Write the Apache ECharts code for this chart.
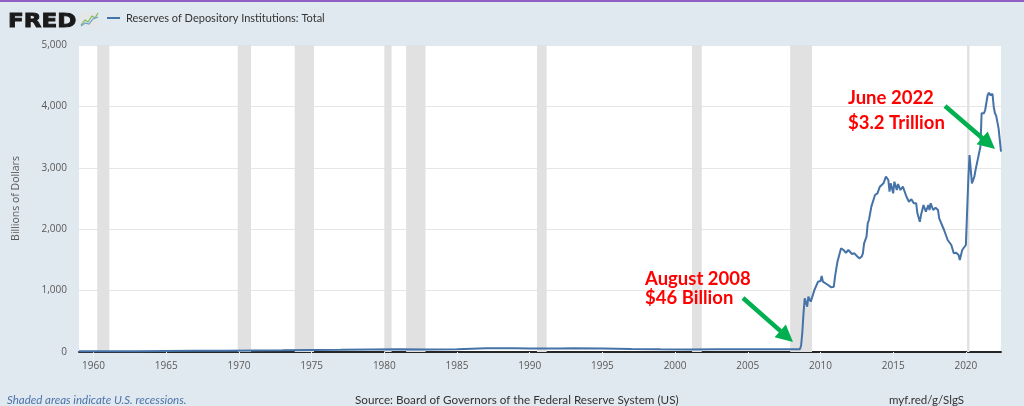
<!DOCTYPE html>
<html><head><meta charset="utf-8">
<script src="https://cdn.jsdelivr.net/npm/echarts@6/dist/echarts.min.js"></script>
<style>html,body{margin:0;padding:0;background:#e1e9f0;}#c{width:1024px;height:406px;}</style>
</head><body><div id="c"></div>
<script>
// ---- data (billions of dollars) ----
const dates = [
 '1959-01','1961-01','1963-01','1965-01','1967-01','1969-01','1971-01','1973-01','1975-01','1977-01',
 '1979-01','1981-01','1983-01','1985-01','1987-01','1989-01','1990-01','1991-01','1992-01','1993-01',
 '1995-01','1997-01','1999-01','2001-01','2003-01','2005-01','2007-01','2008-08',
 '2008-09','2008-10','2008-11','2008-12','2009-02','2009-03','2009-05','2009-06','2009-08','2009-11',
 '2010-01','2010-02','2010-03','2010-06','2010-10','2010-12','2011-01','2011-03','2011-06','2011-08',
 '2011-10','2011-12','2012-03','2012-05','2012-07','2012-09','2012-11','2012-12','2013-01','2013-03',
 '2013-04','2013-05','2013-07','2013-10','2013-12','2014-02','2014-03','2014-05','2014-07','2014-09',
 '2014-10','2014-11','2015-01','2015-02','2015-04','2015-05','2015-07','2015-09','2015-12','2016-02',
 '2016-04','2016-06','2016-08','2016-09','2016-11','2016-12','2017-02','2017-03','2017-04','2017-06',
 '2017-07','2017-08','2017-10','2017-12','2018-02','2018-03','2018-04','2018-07','2018-10','2019-01',
 '2019-03','2019-05','2019-07','2019-08','2019-10','2020-01','2020-02','2020-03','2020-04','2020-06',
 '2020-08','2020-09','2020-11','2021-01','2021-02','2021-04','2021-05','2021-07','2021-08','2021-09',
 '2021-11','2021-12','2022-01','2022-02','2022-04','2022-06'
];
const values = [
 11,12,14,17,20,22,25,28,34,36,
 41,43,40,45,60,60,59,55,56,60,
 56,47,43,40,43,46,43,46,
 102,315,630,875,738,900,820,847,1010,1145,
 1157,1238,1145,1107,1053,1064,1227,1471,1689,1661,
 1617,1661,1596,1607,1563,1526,1552,1607,1770,1878,
 2096,2150,2367,2557,2584,2692,2720,2747,2855,2801,
 2611,2747,2584,2774,2638,2736,2638,2692,2529,2448,
 2487,2422,2422,2259,2122,2231,2394,2340,2285,2394,
 2313,2422,2313,2350,2313,2178,2150,1987,1824,1743,
 1607,1617,1580,1498,1661,1743,1770,2801,3208,2747,
 2855,2964,3154,3344,3888,3888,3950,4186,4223,4186,
 4202,3995,3888,3850,3643,3262
];
const recessions = [
 ['1960-04','1961-02'],['1969-12','1970-11'],['1973-11','1975-03'],['1980-01','1980-07'],
 ['1981-07','1982-11'],['1990-07','1991-03'],['2001-03','2001-11'],['2007-12','2009-06'],['2020-02','2020-04']
];
const xTickYears = [1960,1965,1970,1975,1980,1985,1990,1995,2000,2005,2010,2015,2020];
const yTicks = [0,1000,2000,3000,4000,5000];
const seriesName = 'Reserves of Depository Institutions: Total';
const yAxisTitle = 'Billions of Dollars';
const annotations = [
 {lines:['August 2008','$46 Billion']},
 {lines:['June 2022','$3.2 Trillion']}
];
const footerLeft = 'Shaded areas indicate U.S. recessions.';
const footerMid = 'Source: Board of Governors of the Federal Reserve System (US)';
const footerRight = 'myf.red/g/SlgS';

// ---- helpers ----
function toYear(s){const p=s.split('-');return +p[0]+(+p[1]-1)/12;}
const pts = dates.map((d,i)=>[toYear(d),values[i]]);

function arrow(x1,y1,x2,y2,color){
  const dx=x2-x1, dy=y2-y1, L=Math.hypot(dx,dy), ux=dx/L, uy=dy/L;
  const hl=17, hw=8.5;
  const bx=x2-ux*hl, by=y2-uy*hl;
  return [
    {type:'line',shape:{x1:x1,y1:y1,x2:bx+ux*2,y2:by+uy*2},style:{stroke:color,lineWidth:4.5},z:100},
    {type:'polygon',shape:{points:[[x2,y2],[bx-uy*hw,by+ux*hw],[bx+uy*hw,by-ux*hw]]},style:{fill:color},z:100}
  ];
}
function txt(x,y,text,st){
  return {type:'text',x:x,y:y,z:100,style:Object.assign({text:text,verticalAlign:'top',textVerticalAlign:'top'},st)};
}

const chart = echarts.init(document.getElementById('c'),null,{renderer:'canvas'});
const redFont = {fontFamily:'Lato',fontWeight:'bold',fontSize:18.5,fill:'#ff0000'};
const footFont = {fontFamily:'Lato',fontSize:11.5,fill:'#333333'};
const graphics = [
  {type:'rect',shape:{x:0,y:0,width:1024,height:2},style:{fill:'#9160c4'},z:100},
  {type:'text',x:8,y:11.5,scaleX:1.15,style:{text:'FRED',fontFamily:'DejaVu Sans',fontWeight:'bold',fontSize:20,fill:'#1a1a1a',stroke:'#1a1a1a',lineWidth:0.9,verticalAlign:'top',textVerticalAlign:'top'}},
  {type:'rect',shape:{x:80,y:12,width:19,height:15},style:{fill:'#e4e6e8'}},
  {type:'polyline',shape:{points:[[81,25],[85,20],[88,22],[92,16],[95,18],[98,13]]},style:{stroke:'#7dbb5a',lineWidth:1.2,fill:null}},
  {type:'polyline',shape:{points:[[81,26],[85,23],[89,24],[93,19],[98,17]]},style:{stroke:'#6f9fd0',lineWidth:1.2,fill:null}},
  {type:'line',shape:{x1:107,y1:18,x2:120,y2:18},style:{stroke:'#4572a7',lineWidth:2}},
  {type:'text',x:126,y:18,style:{text:seriesName,fontFamily:'Lato',fontSize:11,fill:'#333333',verticalAlign:'middle',textVerticalAlign:'middle'}},
  txt(7,394.5,footerLeft,Object.assign({},footFont,{fontStyle:'italic',fill:'#4a72aa'})),
  txt(355,394.5,footerMid,Object.assign({},footFont,{fontSize:11.7})),
  txt(889,394.5,footerRight,footFont),
  txt(645,269.5,annotations[0].lines[0],redFont),
  txt(645,289,annotations[0].lines[1],redFont),
  txt(848,89,annotations[1].lines[0],redFont),
  txt(848,113.5,annotations[1].lines[1],redFont)
].concat(arrow(743,298,793,342,'#00b050')).concat(arrow(945,106,995,149,'#00b050'));

chart.setOption({
  backgroundColor:'#e1e9f0',
  animation:false,
  grid:{left:79,right:23,top:45,bottom:54,show:true,backgroundColor:'#ffffff',borderWidth:0},
  xAxis:{
    type:'value',min:toYear('1959-01'),max:toYear('2022-06'),
    axisLine:{show:true,onZero:false,lineStyle:{color:'#262626',width:2}},
    axisTick:{show:true,customValues:xTickYears,length:8,lineStyle:{color:'#eef2f6',width:1}},
    axisLabel:{customValues:xTickYears,formatter:v=>String(Math.round(v)),color:'#595959',fontFamily:'Open Sans',fontSize:10,margin:9},
    splitLine:{show:false}
  },
  yAxis:{
    type:'value',min:0,max:5000,interval:1000,
    name:yAxisTitle,nameLocation:'middle',nameGap:57,nameRotate:90,
    nameTextStyle:{color:'#595959',fontFamily:'Open Sans',fontSize:10.5},
    axisLine:{show:false},axisTick:{show:false},
    axisLabel:{color:'#595959',fontFamily:'Open Sans',fontSize:10,margin:12,
      formatter:v=>v.toLocaleString('en-US')},
    splitLine:{lineStyle:{color:'#e6e6e6',width:1}}
  },
  series:[{
    type:'line',name:seriesName,data:pts,showSymbol:false,
    lineStyle:{color:'#4572a7',width:2},z:5,
    markArea:{silent:true,itemStyle:{color:'#e1e1e1'},
      data:recessions.map(r=>[{xAxis:toYear(r[0])},{xAxis:toYear(r[1])}])}
  }],
  graphic:graphics
});
</script>
</body></html>
